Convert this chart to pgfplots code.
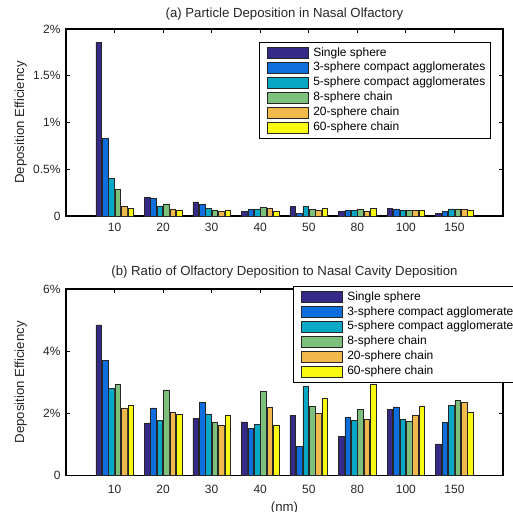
\documentclass[border=0pt]{standalone}
\usepackage{pgfplots}
\pgfplotsset{compat=1.18}
\usepackage{pgfplotstable}
\usepackage{fontspec}
\setmainfont{Liberation Sans}
\definecolor{c1}{HTML}{352A87}
\definecolor{c2}{HTML}{0F6EDD}
\definecolor{c3}{HTML}{07A8C6}
\definecolor{c4}{HTML}{7DC07B}
\definecolor{c5}{HTML}{F1B84B}
\definecolor{c6}{HTML}{F8FA12}
\definecolor{txt}{gray}{0.15}

\pgfplotstableread{
x s1 s2 s3 s4 s5 s6
1 1.86 0.83 0.40 0.285 0.10 0.08
2 0.196 0.19 0.107 0.13 0.07 0.064
3 0.15 0.125 0.082 0.064 0.05 0.06
4 0.053 0.068 0.068 0.093 0.078 0.05
5 0.10 0.032 0.10 0.07 0.06 0.078
6 0.053 0.064 0.057 0.07 0.053 0.085
7 0.085 0.075 0.064 0.057 0.064 0.064
8 0.032 0.05 0.075 0.075 0.07 0.064
}\tabA

\pgfplotstableread{
x s1 s2 s3 s4 s5 s6
1 4.85 3.71 2.81 2.94 2.18 2.25
2 1.70 2.18 1.79 2.76 2.03 1.99
3 1.85 2.36 1.99 1.73 1.62 1.95
4 1.73 1.53 1.66 2.71 2.21 1.63
5 1.93 0.94 2.86 2.22 2.01 2.50
6 1.27 1.87 1.79 2.14 1.82 2.93
7 2.12 2.21 1.82 1.76 1.95 2.24
8 1.02 1.71 2.26 2.41 2.35 2.04
}\tabB

\pgfplotsset{
  leg/.style={legend image code/.code={%
      \draw[##1, line width=0.5pt] (5pt,-5.5pt) rectangle (46pt,5.5pt);
      \path (0pt,0pt) (48.5pt,0pt);}},
  barst/.style={draw=black!85, line width=0.5pt, fill=#1, leg},
  myax/.style={
    scale only axis, width=437pt, height=187pt,
    xmin=0, xmax=9, ymin=0,
    ybar=0.8pt, bar width=5.6pt,
    xtick={1,...,8}, xticklabels={10,20,30,40,50,80,100,150},
    tick align=inside, major tick length=4pt,
    minor tick num=0,
    axis line style={line width=1.2pt, black},
    every tick/.style={black, line width=0.8pt},
    tick label style={font=\fontsize{12}{14}\selectfont, text=txt},
    xticklabel style={yshift=-3.7pt},
    yticklabel style={xshift=-2pt},
    title style={font=\fontsize{13.2}{15}\selectfont, text=txt, anchor=center},
    ylabel style={font=\fontsize{13.2}{15}\selectfont, text=txt, at={(axis description cs:-0.1037,0.5)}, anchor=center},
    xlabel style={font=\fontsize{13.2}{15}\selectfont, text=txt, at={(axis description cs:0.5,-0.173)}, anchor=center},
    ylabel={Deposition Efficiency},
    legend cell align=left,
    legend style={draw=black, line width=0.6pt, fill=white,
      font=\fontsize{12}{14}\selectfont, text=black,
      inner xsep=3pt, inner ysep=3.8pt, row sep=0.9pt,
      nodes={inner xsep=2pt, inner ysep=1pt, text height=9pt, text depth=3pt}},
  }
}

\begin{document}
\begin{tikzpicture}[x=1pt,y=1pt]
\useasboundingbox (0,0) rectangle (513,-511);
\begin{axis}[myax, at={(66pt,-216pt)}, anchor=south west,
  ymax=2, ytick={0,0.5,1,1.5,2}, yticklabels={0,0.5\%,1\%,1.5\%,2\%},
  title={(a) Particle Deposition in Nasal Olfactory},
  title style={at={(axis description cs:0.5,1.048)}},
  legend style={at={(axis description cs:0.4416,0.9305)}, anchor=north west}]
\addplot[barst=c1] table[x=x,y=s1]{\tabA};
\addplot[barst=c2] table[x=x,y=s2]{\tabA};
\addplot[barst=c3] table[x=x,y=s3]{\tabA};
\addplot[barst=c4] table[x=x,y=s4]{\tabA};
\addplot[barst=c5] table[x=x,y=s5]{\tabA};
\addplot[barst=c6] table[x=x,y=s6]{\tabA};
\legend{Single sphere,3-sphere compact agglomerates,5-sphere compact agglomerates,8-sphere chain,20-sphere chain,60-sphere chain}
\end{axis}
\begin{axis}[myax, at={(66pt,-475.7pt)}, anchor=south west, height=186.7pt,
  ymax=6, ytick={0,2,4,6}, yticklabels={0,2\%,4\%,6\%},
  xticklabel style={yshift=-2pt},
  title={(b) Ratio of Olfactory Deposition to Nasal Cavity Deposition},
  title style={at={(axis description cs:0.5,1.059)}},
  xlabel={(nm)},
  legend style={at={(axis description cs:0.5195,1.016)}, anchor=north west}]
\addplot[barst=c1] table[x=x,y=s1]{\tabB};
\addplot[barst=c2] table[x=x,y=s2]{\tabB};
\addplot[barst=c3] table[x=x,y=s3]{\tabB};
\addplot[barst=c4] table[x=x,y=s4]{\tabB};
\addplot[barst=c5] table[x=x,y=s5]{\tabB};
\addplot[barst=c6] table[x=x,y=s6]{\tabB};
\legend{Single sphere,3-sphere compact agglomerates,5-sphere compact agglomerates,8-sphere chain,20-sphere chain,60-sphere chain}
\end{axis}
\end{tikzpicture}
\end{document}
